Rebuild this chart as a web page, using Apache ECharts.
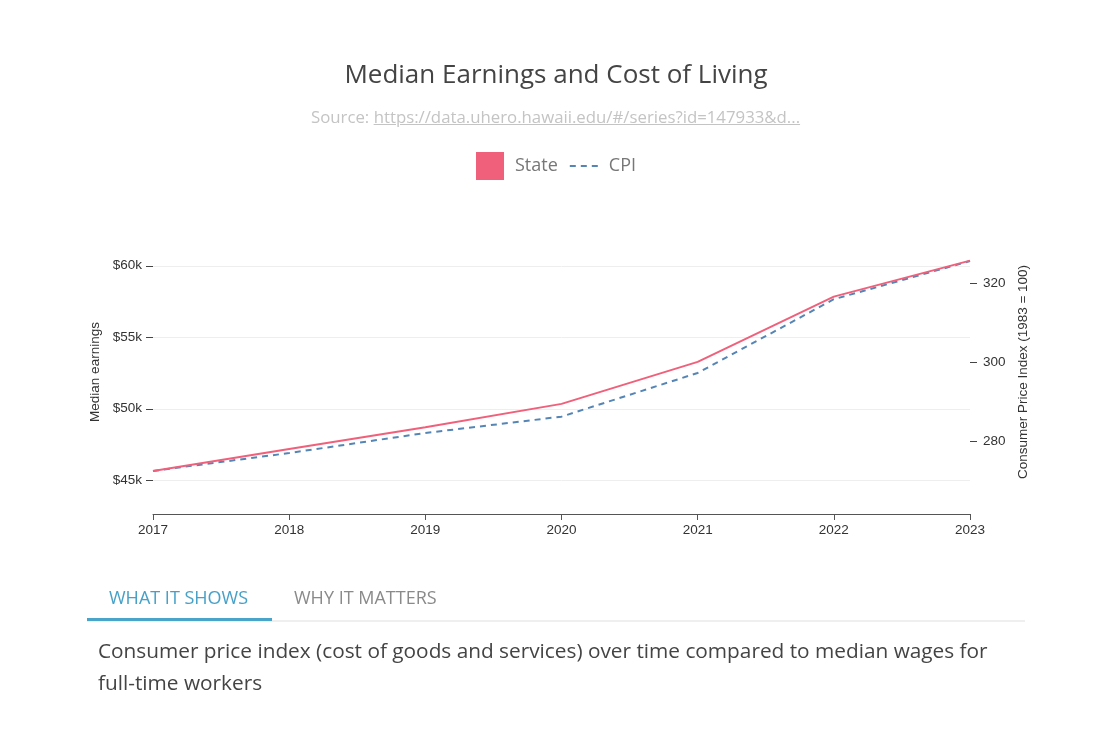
<!DOCTYPE html>
<html>
<head>
<meta charset="utf-8">
<script src="https://cdn.jsdelivr.net/npm/echarts@6/dist/echarts.min.js"></script>
<style>
  html, body { margin: 0; padding: 0; background: #fff; }
  #wrap { position: relative; width: 1102px; height: 734px; overflow: hidden; font-family: "Open Sans", "Noto Sans", sans-serif; }
  #chart { position: absolute; left: 0; top: 0; width: 1102px; height: 734px; }
  .abs { position: absolute; white-space: nowrap; }
  #title { left: 0; width: 1112px; text-align: center; top: 56px; font-size: 26px; line-height: 34px; color: #444; }
  #sub { left: 0; width: 1111px; text-align: center; top: 105px; font-size: 16.8px; line-height: 24px; color: #c4c4c4; }
  #sub a { color: #c4c4c4; text-decoration: underline; }
  #tab1 { left: 109px; top: 585px; font-size: 18px; line-height: 24px; color: #46a0c8; }
  #tab2 { left: 294px; top: 585px; font-size: 18px; line-height: 24px; color: #8a8a8a; }
  #divider { left: 87px; top: 620px; width: 938px; height: 2px; background: #efefef; }
  #bar { left: 87px; top: 618px; width: 185px; height: 3px; background: #4aa3c8; }
  #desc { left: 98px; top: 634px; font-size: 20.8px; line-height: 32px; color: #444; }
</style>
</head>
<body>
<div id="wrap">
  <div id="chart"></div>
  <div class="abs" id="title">Median Earnings and Cost of Living</div>
  <div class="abs" id="sub">Source: <a>https://data.uhero.hawaii.edu/#/series?id=147933&amp;d...</a></div>
  <div class="abs" id="divider"></div>
  <div class="abs" id="bar"></div>
  <div class="abs" id="tab1">WHAT IT SHOWS</div>
  <div class="abs" id="tab2">WHY IT MATTERS</div>
  <div class="abs" id="desc">Consumer price index (cost of goods and services) over time compared to median wages for<br>full-time workers</div>
</div>
<script>
const years = ['2017', '2018', '2019', '2020', '2021', '2022', '2023'];
const stateEarnings = [45650, 47190, 48700, 50340, 53280, 57840, 60360];
const cpi = [272.35, 276.9, 282.0, 286.15, 297.25, 316.0, 325.7];
const earningsTicks = [45000, 50000, 55000, 60000];
const cpiTicks = [280, 300, 320];

const chart = echarts.init(document.getElementById('chart'), null, { renderer: 'canvas' });
const axisFont = { fontFamily: 'Liberation Sans, Arial, sans-serif', fontSize: 13.5, color: '#333' };

chart.setOption({
  animation: false,
  legend: {
    top: 147,
    left: 471,
    itemWidth: 28,
    itemHeight: 28,
    itemGap: 11,
    textStyle: { fontFamily: 'Open Sans', fontSize: 18, color: '#777', padding: [0, 0, 0, 6] },
    data: [
      { name: 'State', icon: 'rect' },
      { name: 'CPI', itemStyle: { opacity: 0 } }
    ]
  },
  grid: { left: 153, right: 132, top: 230, bottom: 220, containLabel: false },
  xAxis: {
    type: 'category',
    data: years,
    boundaryGap: false,
    axisLine: { show: true, lineStyle: { color: '#555', width: 1 } },
    axisTick: { show: true, length: 6, lineStyle: { color: '#555' } },
    axisLabel: Object.assign({ margin: 9 }, axisFont),
    splitLine: { show: false }
  },
  yAxis: [
    {
      type: 'value',
      position: 'left',
      min: 42640,
      max: 62500,
      name: 'Median earnings',
      nameLocation: 'middle',
      nameGap: 50,
      nameTextStyle: axisFont,
      axisLine: { show: false },
      axisTick: { show: true, length: 7, customValues: earningsTicks, lineStyle: { color: '#444' } },
      axisLabel: Object.assign({ margin: 11, customValues: earningsTicks, formatter: v => '$' + Math.round(v / 1000) + 'k' }, axisFont),
      splitLine: { show: true, lineStyle: { color: '#eeeeee', width: 1 } }
    },
    {
      type: 'value',
      position: 'right',
      min: 261.4,
      max: 333.6,
      name: 'Consumer Price Index (1983 = 100)',
      nameLocation: 'middle',
      nameGap: 42,
      nameRotate: 90,
      nameTextStyle: axisFont,
      axisLine: { show: false },
      axisTick: { show: true, length: 7, customValues: cpiTicks, lineStyle: { color: '#444' } },
      axisLabel: Object.assign({ margin: 13, customValues: cpiTicks }, axisFont),
      splitLine: { show: false }
    }
  ],
  series: [
    {
      name: 'State',
      type: 'line',
      yAxisIndex: 0,
      data: stateEarnings,
      symbol: 'none',
      itemStyle: { color: '#f0607a' },
      lineStyle: { color: '#f0607a', width: 2 },
      z: 3
    },
    {
      name: 'CPI',
      type: 'line',
      yAxisIndex: 1,
      data: cpi,
      symbol: 'none',
      itemStyle: { color: '#5585b5' },
      lineStyle: { color: '#5585b5', width: 2, type: [6, 5] },
      z: 2
    }
  ]
});
</script>
</body>
</html>
